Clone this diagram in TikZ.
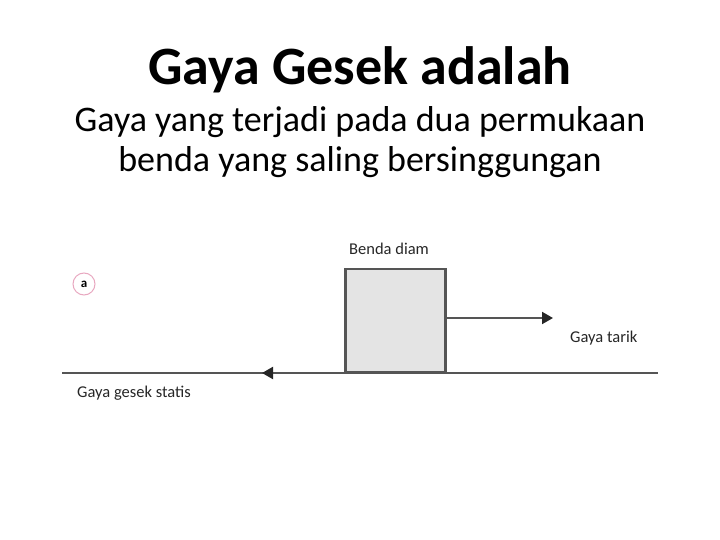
\documentclass[tikz,border=0pt]{standalone}
\usepackage{fontspec}
\setmainfont{Carlito}
\usetikzlibrary{arrows.meta}
\definecolor{boxfill}{HTML}{E4E4E4}
\definecolor{linegray}{HTML}{555555}
\definecolor{circpink}{HTML}{E8A8C0}
\tikzset{
  lbl/.style={font=\fontsize{16.5}{19}\selectfont, text=black!85, inner sep=0pt, anchor=west},
  forcearrow/.style={draw=linegray, line width=2pt, -{Triangle[length=11pt,width=12pt,color=black!85]}},
  ground/.style={draw=linegray, line width=2pt},
}
\begin{document}
\begin{tikzpicture}[x=1pt,y=-1pt]
\useasboundingbox (0,0) rectangle (720,540);
\node[anchor=base] (title) at (360,85) {\fontsize{54}{60}\selectfont\bfseries Gaya Gesek adalah};
\node[anchor=base] (sub1) at (360,132) {\fontsize{36}{42}\selectfont Gaya yang terjadi pada dua permukaan};
\node[anchor=base] (sub2) at (360,172) {\fontsize{36}{42}\selectfont benda yang saling bersinggungan};
\coordinate (gl) at (62,373);
\coordinate (gr) at (658,373);
\draw[ground] (gl) -- (gr);
\node[draw=linegray, fill=boxfill, line width=2.5pt, minimum width=100pt, minimum height=103pt, inner sep=0pt, anchor=south west] (box) at (344,373) {};
\coordinate (tarik) at (553,318);
\coordinate (gesek) at (262,373);
\draw[forcearrow] (box.east |- tarik) -- (tarik);
\draw[forcearrow] (box.south west) -- (gesek);
\node[lbl] (diam) at (349,249) {Benda diam};
\node[lbl] (tariklbl) at (570,338) {Gaya tarik};
\node[lbl] (statis) at (77,393) {Gaya gesek statis};
\node[draw=circpink, line width=1pt, circle, minimum size=22pt, inner sep=0pt, font=\fontsize{13}{15}\selectfont\bfseries] (a) at (84,284) {a};
\end{tikzpicture}
\end{document}
